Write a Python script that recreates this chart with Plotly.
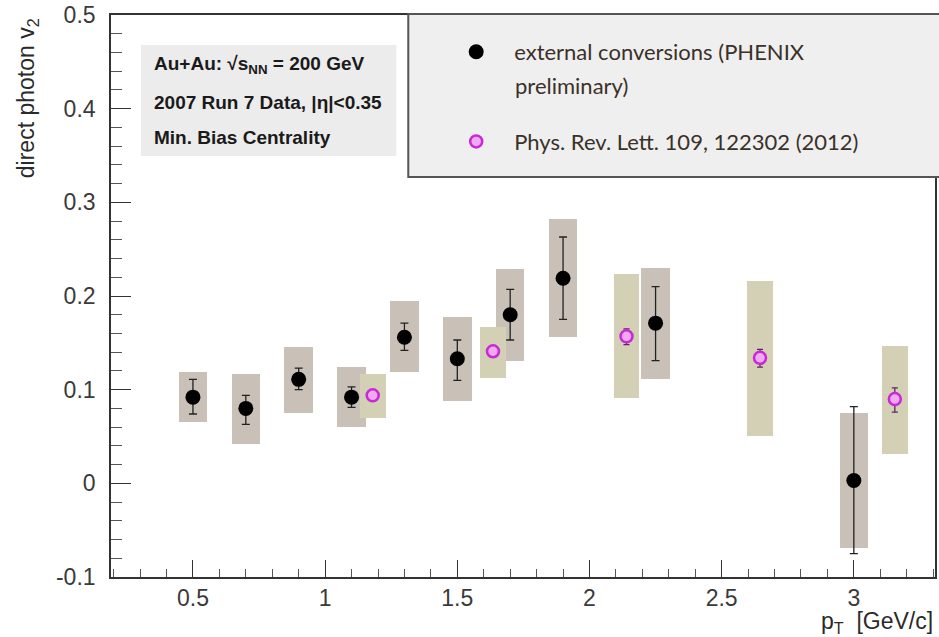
import plotly.graph_objects as go

# External conversions (PHENIX preliminary)
ext_pt = [0.5, 0.7, 0.9, 1.1, 1.3, 1.5, 1.7, 1.9, 2.25, 3.0]
ext_v2 = [0.092, 0.080, 0.111, 0.092, 0.156, 0.133, 0.180, 0.219, 0.171, 0.003]
ext_stat_lo = [0.074, 0.063, 0.100, 0.081, 0.142, 0.110, 0.153, 0.175, 0.131, -0.075]
ext_stat_hi = [0.111, 0.094, 0.123, 0.103, 0.171, 0.153, 0.207, 0.263, 0.210, 0.082]
ext_sys_lo = [0.066, 0.042, 0.075, 0.060, 0.119, 0.088, 0.131, 0.156, 0.111, -0.069]
ext_sys_hi = [0.119, 0.117, 0.146, 0.124, 0.195, 0.178, 0.229, 0.282, 0.230, 0.075]

# Phys. Rev. Lett. 109, 122302 (2012)
prl_pt = [1.18, 1.635, 2.14, 2.645, 3.155]
prl_v2 = [0.094, 0.141, 0.157, 0.134, 0.090]
prl_stat_lo = [0.089, 0.135, 0.148, 0.124, 0.076]
prl_stat_hi = [0.099, 0.147, 0.165, 0.143, 0.102]
prl_sys_lo = [0.070, 0.112, 0.091, 0.051, 0.031]
prl_sys_hi = [0.117, 0.167, 0.224, 0.216, 0.147]

x_ticks = [0.5, 1, 1.5, 2, 2.5, 3]
y_ticks = [-0.1, 0, 0.1, 0.2, 0.3, 0.4, 0.5]

W, H = 939, 637
ML, MR, MT, MB = 111, 2, 15, 60
PW, PH = W - ML - MR, H - MT - MB


def px(x):
    return (x - ML) / PW


def py(y):
    return (H - MB - y) / PH


EXT_BOX = "rgb(201,193,183)"
PRL_BOX = "rgb(212,208,181)"
MAG_LINE = "rgb(200,40,215)"
MAG_FILL = "rgb(242,168,242)"

fig = go.Figure()

# systematic uncertainty boxes
fig.add_trace(go.Bar(
    x=ext_pt, y=[h - l for h, l in zip(ext_sys_hi, ext_sys_lo)], base=ext_sys_lo,
    width=0.108, marker=dict(color=EXT_BOX, line=dict(width=0)),
    showlegend=False, hoverinfo="skip"))
fig.add_trace(go.Bar(
    x=prl_pt, y=[h - l for h, l in zip(prl_sys_hi, prl_sys_lo)], base=prl_sys_lo,
    width=0.098, marker=dict(color=PRL_BOX, line=dict(width=0)),
    showlegend=False, hoverinfo="skip"))

# data points with statistical errors
fig.add_trace(go.Scatter(
    x=ext_pt, y=ext_v2, mode="markers",
    name="external conversions (PHENIX",
    legendgroup="ext",
    marker=dict(color="black", size=15, symbol="circle"),
    error_y=dict(type="data", symmetric=False,
                 array=[h - v for h, v in zip(ext_stat_hi, ext_v2)],
                 arrayminus=[v - l for v, l in zip(ext_v2, ext_stat_lo)],
                 color="#222", thickness=1.3, width=4)))
fig.add_trace(go.Scatter(
    x=prl_pt, y=prl_v2, mode="markers",
    name="Phys. Rev. Lett. 109, 122302 (2012)",
    legendgroup="prl",
    marker=dict(color=MAG_FILL, size=12, symbol="circle",
                line=dict(color=MAG_LINE, width=2.5)),
    error_y=dict(type="data", symmetric=False,
                 array=[h - v for h, v in zip(prl_stat_hi, prl_v2)],
                 arrayminus=[v - l for v, l in zip(prl_v2, prl_stat_lo)],
                 color="#5a2a5a", thickness=1.3, width=3)))

axis_font = dict(family="Liberation Sans, Arial, sans-serif", size=23, color="#3a3a3a")

fig.update_xaxes(
    range=[0.19, 3.307], tickvals=x_ticks, ticktext=[f"{v:g}" for v in x_ticks],
    ticks="inside", ticklen=17, tickwidth=1.3, tickcolor="#333",
    minor=dict(dtick=0.1, tick0=0, ticks="inside", ticklen=8, tickwidth=1.1, tickcolor="#555"),
    showline=True, linecolor="#333", linewidth=1.6, mirror=True,
    showgrid=False, zeroline=False, tickfont=axis_font, ticklabelstandoff=0)
fig.update_yaxes(
    range=[-0.1, 0.5], tickvals=y_ticks, ticktext=[f"{v:g}" for v in y_ticks],
    ticks="inside", ticklen=20, tickwidth=1.3, tickcolor="#333",
    minor=dict(dtick=0.02, tick0=0, ticks="inside", ticklen=11, tickwidth=1.1, tickcolor="#555"),
    showline=True, linecolor="#333", linewidth=1.6, mirror=True,
    showgrid=False, zeroline=False, tickfont=axis_font, ticklabelstandoff=9)

shapes = [
    # info box
    dict(type="rect", xref="paper", yref="paper",
         x0=px(141), x1=px(397), y0=py(156), y1=py(45),
         fillcolor="#ececec", line=dict(width=0), layer="above"),
    # legend box
    dict(type="rect", xref="paper", yref="paper",
         x0=px(409), x1=px(950), y0=py(177), y1=py(14),
         fillcolor="#efefef", line=dict(color="#555", width=2), layer="above"),
]

info_font = dict(family="Liberation Sans, Arial, sans-serif", size=19, color="#1a1a1a")
leg_font = dict(family="Lato, Open Sans, sans-serif", size=22, color="#3a3128")
title_font = dict(family="Liberation Sans, Arial, sans-serif", size=23, color="#2a2a2a")

annotations = [
    dict(text="<b>Au+Au: √s<sub>NN</sub> = 200 GeV</b>", x=px(152), y=py(65),
         xref="paper", yref="paper", xanchor="left", yanchor="middle",
         showarrow=False, font=info_font),
    dict(text="<b>2007 Run 7 Data, |η|<0.35</b>", x=px(152), y=py(102),
         xref="paper", yref="paper", xanchor="left", yanchor="middle",
         showarrow=False, font=info_font),
    dict(text="<b>Min. Bias Centrality</b>", x=px(152), y=py(137),
         xref="paper", yref="paper", xanchor="left", yanchor="middle",
         showarrow=False, font=info_font),
    dict(text="preliminary)", x=px(514), y=py(85),
         xref="paper", yref="paper", xanchor="left", yanchor="middle",
         showarrow=False, font=leg_font),
    dict(text="direct photon v<sub>2</sub>", x=px(27), y=py(16),
         xref="paper", yref="paper", xanchor="center", yanchor="top",
         textangle=-90, showarrow=False, font=title_font),
    dict(text="p<sub>T</sub>  [GeV/c]", x=1.0, y=py(622),
         xref="paper", yref="paper", xanchor="right", yanchor="middle",
         showarrow=False, font=title_font),
]

fig.update_layout(
    width=W, height=H,
    margin=dict(l=ML, r=MR, t=MT, b=MB, pad=0),
    paper_bgcolor="white", plot_bgcolor="white",
    barmode="overlay", bargap=0,
    shapes=shapes, annotations=annotations,
    showlegend=True,
    legend=dict(x=px(439), y=py(31), xanchor="left", yanchor="top",
                bgcolor="rgba(0,0,0,0)", borderwidth=0,
                font=leg_font, itemwidth=66, tracegroupgap=58,
                valign="middle", traceorder="grouped"),
)

fig.write_html("out.html")
